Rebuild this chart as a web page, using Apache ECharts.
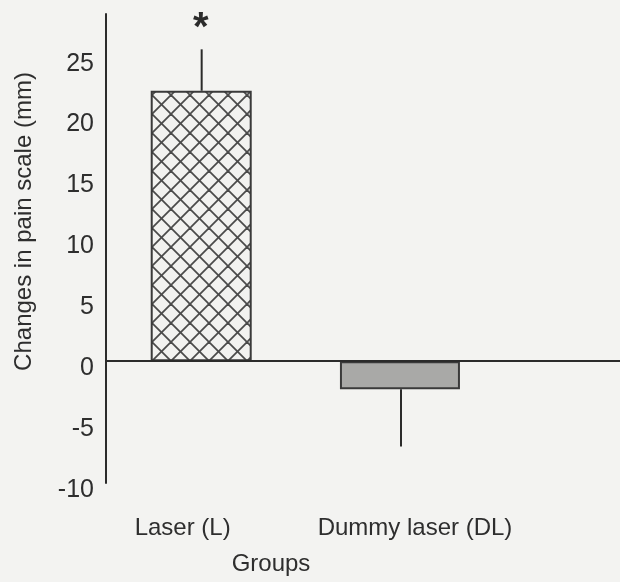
<!DOCTYPE html>
<html>
<head>
<meta charset="utf-8">
<script src="https://cdn.jsdelivr.net/npm/echarts@6/dist/echarts.min.js"></script>
<style>
  html, body { margin: 0; padding: 0; background: #f3f3f1; }
  #chart { width: 620px; height: 582px; }
</style>
</head>
<body>
<div id="chart"></div>
<script>
// ---- data ----
const categories = ['Laser (L)', 'Dummy laser (DL)', ''];
const means = [22.2, -2.3];
const errorEnds = [25.6, -7.0];
const sigMarks = ['*', ''];
const yMin = -10;
const yMax = 28.5;
const yStep = 5;
const yAxisTitle = 'Changes in pain scale (mm)';
const xAxisTitle = 'Groups';

// ---- styles ----
const FONT = '"Liberation Sans", Arial, Helvetica, sans-serif';
const INK = '#2b2b2b';
const TEXT = '#2e2e2e';

function makeCrossHatch() {
  const s = 19;
  const c = document.createElement('canvas');
  c.width = s; c.height = s;
  const g = c.getContext('2d');
  g.fillStyle = '#f2f2f0';
  g.fillRect(0, 0, s, s);
  g.strokeStyle = '#4a4a4a';
  g.lineWidth = 1.8;
  for (const dx of [-s, 0, s]) {
    g.beginPath(); g.moveTo(dx, 0); g.lineTo(dx + s, s); g.stroke();
    g.beginPath(); g.moveTo(dx + s, 0); g.lineTo(dx, s); g.stroke();
  }
  return c;
}

const barStyles = [
  { barWidth: 101, itemStyle: { color: { image: makeCrossHatch(), repeat: 'repeat' }, borderColor: '#3a3a3a', borderWidth: 2 } },
  { barWidth: 120, itemStyle: { color: '#a9a9a7', borderColor: '#3a3a3a', borderWidth: 2 } }
];

const labelShift = [{ padding: [0, 46, 0, 0] }, { padding: [0, 0, 0, 20] }];

const chart = echarts.init(document.getElementById('chart'), null, { renderer: 'canvas' });

const barSeries = means.map((v, i) => ({
  type: 'bar',
  name: categories[i],
  data: means.map((m, j) => (j === i ? m : '-')),
  barWidth: barStyles[i].barWidth,
  barGap: '-110%',
  itemStyle: barStyles[i].itemStyle,
  emphasis: { disabled: true },
  silent: true,
  z: 2
}));

barSeries[0].markLine = {
  silent: true,
  symbol: ['none', 'none'],
  label: { show: false },
  lineStyle: { color: INK, width: 2, type: 'solid' },
  emphasis: { disabled: true },
  data: [{ yAxis: 0 }],
  z: 5
};

const errOffsetX = -4;

const errorSeries = {
  type: 'custom',
  silent: true,
  z: 6,
  encode: { x: 0, y: [1, 2] },
  data: means.map((m, i) => [i, m, errorEnds[i]]),
  renderItem: function (params, api) {
    const i = params.dataIndex;
    const base = api.coord([api.value(0), api.value(1)]);
    const end = api.coord([api.value(0), api.value(2)]);
    const x = base[0] + errOffsetX;
    const children = [{
      type: 'line',
      shape: { x1: x, y1: base[1], x2: x, y2: end[1] },
      style: { stroke: INK, lineWidth: 2 }
    }];
    if (sigMarks[i]) {
      children.push({
        type: 'text',
        style: {
          text: sigMarks[i], x: x - 1, y: end[1] - 20,
          align: 'center', verticalAlign: 'middle',
          font: 'bold 40px ' + FONT, fill: INK
        }
      });
    }
    return { type: 'group', children: children };
  }
};

const option = {
  backgroundColor: '#f3f3f1',
  animation: false,
  grid: { left: 106, top: 14, right: -84, height: 469, containLabel: false, outerBoundsMode: 'none' },
  xAxis: {
    type: 'category',
    data: categories,
    axisLine: { show: false, onZero: false },
    axisTick: { show: false },
    splitLine: { show: false },
    axisLabel: {
      margin: 33,
      interval: 0,
      color: TEXT,
      fontFamily: FONT,
      fontSize: 24,
      formatter: function (v, i) { return v ? '{c' + i + '|' + v + '}' : ''; },
      rich: {
        c0: Object.assign({ fontSize: 24, fontFamily: FONT, color: TEXT }, labelShift[0]),
        c1: Object.assign({ fontSize: 24, fontFamily: FONT, color: TEXT }, labelShift[1])
      }
    },
    name: xAxisTitle,
    nameLocation: 'middle',
    nameGap: 69,
    nameTextStyle: { fontSize: 24, fontFamily: FONT, color: TEXT, padding: [0, 268, 0, 0] }
  },
  yAxis: {
    type: 'value',
    min: yMin,
    max: yMax,
    interval: yStep,
    axisLine: { show: true, lineStyle: { color: INK, width: 2 } },
    axisTick: { show: false },
    splitLine: { show: false },
    axisLabel: {
      margin: 12,
      color: TEXT,
      fontFamily: FONT,
      fontSize: 25,
      verticalAlign: 'top',
      lineHeight: 14,
      showMaxLabel: false
    },
    name: yAxisTitle,
    nameLocation: 'middle',
    nameGap: 70,
    nameTextStyle: { fontSize: 24, fontFamily: FONT, color: TEXT, padding: [0, 0, 0, 54] }
  },
  series: barSeries.concat([errorSeries])
};

chart.setOption(option);
</script>
</body>
</html>
